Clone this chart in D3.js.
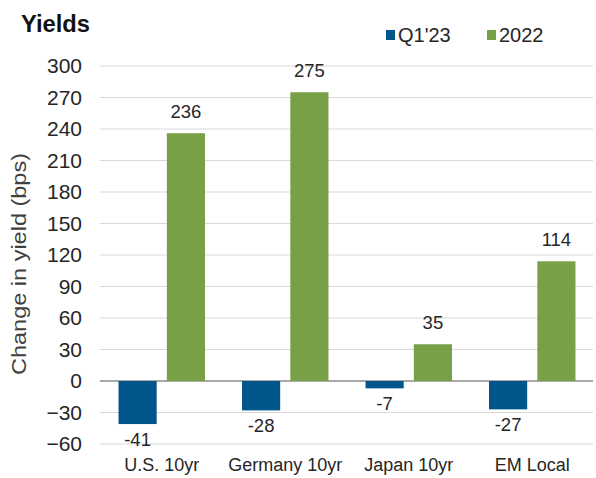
<!DOCTYPE html>
<html><head><meta charset="utf-8">
<script src="https://cdn.jsdelivr.net/npm/d3@7"></script>
<style>body{margin:0;background:#fff}svg{display:block;font-family:"Liberation Sans",Arial,sans-serif}</style>
</head><body><svg id="c" width="596" height="478"></svg>
<script>
const categories = ["U.S. 10yr","Germany 10yr","Japan 10yr","EM Local"];
const seriesNames = ["Q1'23","2022"];
const q1Values = [-41,-28,-7,-27];
const y2022Values = [236,275,35,114];
const yTicks = [-60,-30,0,30,60,90,120,150,180,210,240,270,300];
const colors = ["#00568A","#77A047"];

const svg = d3.select("#c");
const x0 = d3.scaleBand().domain(categories).range([100,594]).paddingInner(0.3).paddingOuter(0.15);
const x1 = d3.scaleBand().domain(seriesNames).range([0,x0.bandwidth()]).paddingInner(0.21);
const y = d3.scaleLinear().domain([-60,300]).range([444,66]);

// gridlines
svg.append("g").selectAll("line").data(yTicks).join("line")
  .attr("x1",100).attr("x2",593).attr("y1",d=>y(d)).attr("y2",d=>y(d))
  .attr("stroke",d=>d===0?"#8c8c8c":"#d9d9d9").attr("stroke-width",d=>d===0?1.3:1.2);

// y axis
const ya = svg.append("g").attr("transform","translate(100,0)")
  .call(d3.axisLeft(y).tickValues(yTicks).tickSize(0).tickPadding(18));
ya.select(".domain").remove();
ya.selectAll("text").attr("font-size",21).attr("fill","#262626").attr("font-family","Liberation Sans, Arial, sans-serif");

const rows = categories.map((c,i)=>({cat:c, vals:[{s:seriesNames[0],v:q1Values[i]},{s:seriesNames[1],v:y2022Values[i]}]}));
const g = svg.append("g").selectAll("g").data(rows).join("g").attr("transform",d=>`translate(${x0(d.cat)},0)`);
g.selectAll("rect").data(d=>d.vals).join("rect")
  .attr("x",d=>x1(d.s)).attr("width",x1.bandwidth())
  .attr("y",d=>y(Math.max(0,d.v))).attr("height",d=>Math.abs(y(d.v)-y(0)))
  .attr("fill",(d,i)=>colors[i]);
g.selectAll("text").data(d=>d.vals).join("text")
  .attr("x",d=>x1(d.s)+x1.bandwidth()/2)
  .attr("y",d=>d.v<0? y(d.v)+22 : y(d.v)-15)
  .attr("text-anchor","middle").attr("font-size",18.5).attr("fill","#262626")
  .text(d=>d.v);

// x axis labels
const xa = svg.append("g").attr("transform","translate(0,444)")
  .call(d3.axisBottom(x0).tickSize(0).tickPadding(14));
xa.select(".domain").remove();
xa.selectAll("text").attr("font-size",18).attr("fill","#262626").attr("font-family","Liberation Sans, Arial, sans-serif");

// title
svg.append("text").attr("x",21).attr("y",32).attr("font-size",24).attr("font-weight","bold")
  .attr("textLength",69).attr("lengthAdjust","spacingAndGlyphs").attr("fill","#111").text("Yields");

// y label
svg.append("text").attr("transform","translate(26,264) rotate(-90)").attr("text-anchor","middle")
  .attr("font-size",20).attr("fill","#404040").attr("textLength",222).attr("lengthAdjust","spacingAndGlyphs")
  .text("Change in yield (bps)");

// legend
const legX = [386,487];
const lg = svg.append("g").selectAll("g").data(seriesNames).join("g").attr("transform",(d,i)=>`translate(${legX[i]},0)`);
lg.append("rect").attr("x",0).attr("y",30).attr("width",9).attr("height",10).attr("fill",(d,i)=>colors[i]);
lg.append("text").attr("x",12).attr("y",42).attr("font-size",20).attr("fill","#262626").text(d=>d);
</script></body></html>
